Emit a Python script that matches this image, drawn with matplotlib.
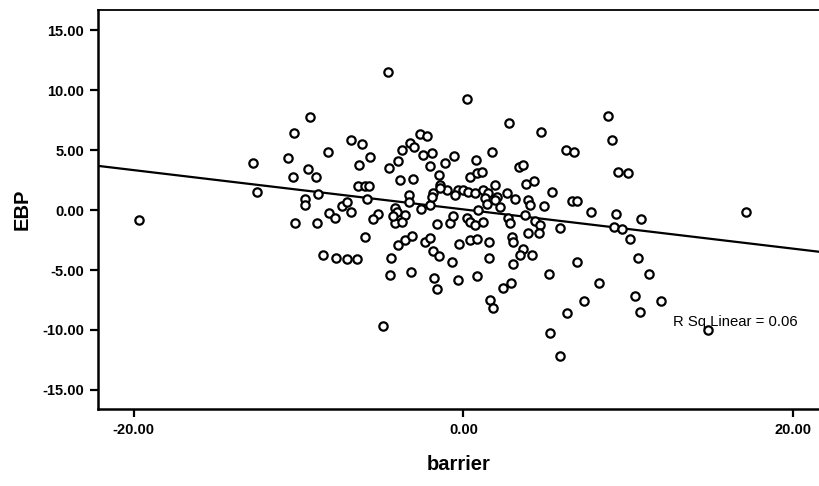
import numpy as np
import matplotlib
matplotlib.use("Agg")
import matplotlib.pyplot as plt

plt.rcParams['font.family'] = ['Liberation Sans', 'DejaVu Sans']

# Points (barrier, EBP)
barrier = np.array([
    -19.65, -4.56, -9.30, -10.27, -12.74, -10.65, -8.23, -6.84, -6.17, -5.67,
    -6.32, -9.40, -8.96, -10.35, -3.71, -3.95, -4.53, -3.85, -6.37, -5.97,
    -5.71, -12.53, -8.80, -9.61, -9.61, -7.38, -7.08, -6.82, -5.87, -8.13,
    -7.79, -10.21, -8.86, -5.16, -5.50, -5.97, -8.50, -7.73, -7.08, -6.44,
    -4.39, -4.45, -3.95, -3.55, -4.15, -4.05, -3.55, -4.15, -3.75, -3.30,
    -3.30, -3.20, 0.23, 2.78, 4.68, 6.19, 6.70, -2.64, -2.23, -3.24,
    -3.00, -2.44, -1.93, -2.03, -3.06, -1.12, -0.56, 0.76, 1.73, -1.47,
    0.39, 0.80, 1.10, 3.38, 3.62, 1.91, 3.79, 4.29, 5.35, -1.42,
    -1.83, -2.60, -2.03, -1.02, -0.31, -0.01, 0.29, -0.52, 0.70, 1.20,
    1.50, 1.30, 2.01, 1.41, 0.90, 2.62, 3.12, 2.21, 3.93, 4.03,
    4.88, 6.60, 6.91, -1.62, -0.82, -0.62, 0.19, 0.39, 0.70, 1.20,
    2.72, 2.82, 3.73, 4.33, 4.64, 3.93, 4.60, 5.83, -3.14, -2.33,
    -2.03, -1.83, -1.47, -0.25, 0.39, 0.84, 1.55, 1.56, -0.72, 2.92,
    3.02, 3.62, 3.42, 4.13, 3.02, 6.86, -1.77, -1.62, -0.31, 0.80,
    2.37, 2.86, 5.20, 1.61, 1.77, 6.30, 8.74, 9.02, 9.38, 9.95,
    7.73, 9.24, 10.76, 9.12, 9.63, 10.09, 17.10, 10.56, 11.26, 8.21,
    7.30, 10.39, 11.97, 10.72, 14.84, 5.85, 5.24, -4.87, -1.93, 1.91,
    -1.42, -4.25,
])
ebp = np.array([
    -0.83, 11.53, 7.78, 6.47, 3.94, 4.39, 4.86, 5.89, 5.53, 4.42,
    3.75, 3.39, 2.78, 2.75, 5.00, 4.08, 3.53, 2.50, 2.05, 2.05,
    2.05, 1.53, 1.33, 0.89, 0.42, 0.33, 0.69, -0.14, 0.89, -0.28,
    -0.69, -1.11, -1.11, -0.33, -0.78, -2.22, -3.75, -4.03, -4.08, -4.08,
    -4.03, -5.42, -2.92, -2.50, 0.14, -0.14, -0.42, -1.11, -1.03, 1.30,
    0.65, -5.14, 9.31, 7.28, 6.50, 5.00, 4.86, 6.39, 6.17, 5.56,
    5.28, 4.58, 4.78, 3.67, 2.60, 3.94, 4.50, 4.17, 4.86, 2.92,
    2.78, 3.11, 3.19, 3.56, 3.75, 2.08, 2.22, 2.42, 1.54, 2.08,
    1.39, 0.06, 0.42, 1.67, 1.72, 1.67, 1.53, 1.25, 1.39, 1.67,
    1.44, 0.97, 1.11, 0.50, 0.00, 1.44, 0.89, 0.28, 0.83, 0.42,
    0.33, 0.73, 0.73, -1.17, -1.11, -0.50, -0.69, -0.97, -1.25, -0.97,
    -0.69, -1.11, -0.42, -0.89, -1.25, -1.89, -1.94, -1.47, -2.17, -2.69,
    -2.36, -3.39, -3.83, -2.86, -2.50, -2.44, -2.64, -3.97, -4.31, -2.22,
    -2.64, -3.28, -3.75, -3.75, -4.53, -4.31, -5.69, -6.61, -5.83, -5.50,
    -6.53, -6.06, -5.33, -7.50, -8.14, -8.61, 7.86, 5.83, 3.19, 3.06,
    -0.19, -0.31, -0.78, -1.39, -1.58, -2.44, -0.14, -4.03, -5.33, -6.06,
    -7.58, -7.17, -7.56, -8.47, -10.00, -12.14, -10.25, -9.67, 1.11, 0.83,
    1.81, -0.50,
])

# linear fit
fit_intercept = 0.06
fit_slope = -0.164
r_sq = 0.06

x_ticks = [-20, 0, 20]
y_ticks = [-15, -10, -5, 0, 5, 10, 15]

fig = plt.figure(figsize=(8.19, 4.86), dpi=100)
ax = fig.add_axes([0.1197, 0.1584, 0.8803, 0.821])

ax.plot(barrier, ebp, 'o', mfc='white', mec='black', ms=6.0, mew=1.6, zorder=3)
ax.axline((0, fit_intercept), slope=fit_slope, color='black', lw=1.6, zorder=2)
ax.text(12.7, -9.3, "R Sq Linear = %.2f" % r_sq, ha='left', va='center',
        fontsize=10.7, zorder=4)

ax.set_xlim(-22.15, 21.55)
ax.set_ylim(-16.6, 16.7)
ax.set_xticks(x_ticks)
ax.set_yticks(y_ticks)
ax.set_xticklabels(["%.2f" % v for v in x_ticks], fontsize=10.5, fontweight='bold')
ax.set_yticklabels(["%.2f" % v for v in y_ticks], fontsize=10.5, fontweight='bold')
ax.tick_params(direction='out', length=6, width=1.6, pad=4)

ax.spines['right'].set_visible(False)
ax.spines['left'].set_linewidth(1.8)
ax.spines['bottom'].set_linewidth(1.8)
ax.spines['top'].set_linewidth(1.3)

ax.set_xlabel("barrier", fontsize=14.5, fontweight='bold', labelpad=13)
ax.set_ylabel("EBP", fontsize=14.5, fontweight='bold', labelpad=8)

fig.savefig("out.png", dpi=100)
